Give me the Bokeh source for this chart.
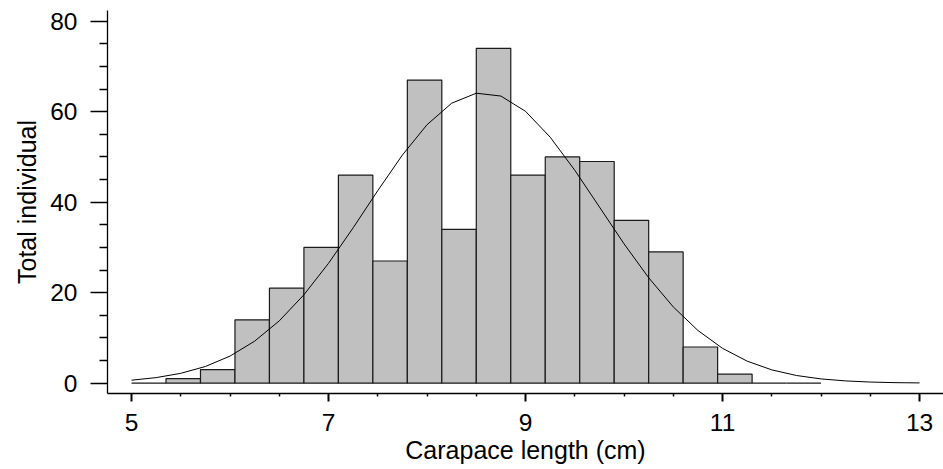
from bokeh.plotting import figure
from bokeh.models import Range1d, FixedTicker, ColumnDataSource
from bokeh.embed import file_html
from bokeh.resources import INLINE

# Histogram bins (carapace length, cm) and counts
bin_left = [5.0, 5.35, 5.7, 6.05, 6.4, 6.75, 7.1, 7.45, 7.8, 8.15,
            8.5, 8.85, 9.2, 9.55, 9.9, 10.25, 10.6, 10.95, 11.3, 11.65]
bin_right = [5.35, 5.7, 6.05, 6.4, 6.75, 7.1, 7.45, 7.8, 8.15, 8.5,
             8.85, 9.2, 9.55, 9.9, 10.25, 10.6, 10.95, 11.3, 11.65, 12.0]
counts = [0, 1, 3, 14, 21, 30, 46, 27, 67, 34,
          74, 46, 50, 49, 36, 29, 8, 2, 0, 0]

# Fitted normal curve
curve_x = [5.0, 5.25, 5.5, 5.75, 6.0, 6.25, 6.5, 6.75, 7.0, 7.25, 7.5,
           7.75, 8.0, 8.25, 8.5, 8.75, 9.0, 9.25, 9.5, 9.75, 10.0,
           10.25, 10.5, 10.75, 11.0, 11.25, 11.5, 11.75, 12.0, 12.25,
           12.5, 12.75, 13.0]
curve_y = [0.66, 1.23, 2.18, 3.69, 5.99, 9.29, 13.78, 19.54, 26.5, 34.34,
           42.56, 50.43, 57.13, 61.88, 64.09, 63.46, 60.08, 54.38, 47.06,
           38.94, 30.8, 23.3, 16.85, 11.65, 7.7, 4.87, 2.94, 1.7, 0.94,
           0.5, 0.25, 0.12, 0.06]

x_major = [5, 7, 9, 11, 13]
x_minor = [5.5, 6, 6.5, 7.5, 8, 8.5, 9.5, 10, 10.5, 11.5, 12, 12.5]
y_major = [0, 20, 40, 60, 80]
y_minor = [5, 10, 15, 25, 30, 35, 45, 50, 55, 65, 70, 75]

FONT = "Liberation Sans"

p = figure(width=943, height=469, output_backend="svg", toolbar_location=None,
           x_range=Range1d(4.756, 13.243), y_range=Range1d(-2.28, 82.37),
           min_border_left=107, min_border_right=0, min_border_top=10,
           min_border_bottom=76)
p.outline_line_color = None
p.background_fill_color = "white"
p.border_fill_color = "white"
p.xgrid.visible = False
p.ygrid.visible = False

src = ColumnDataSource(dict(left=bin_left, right=bin_right, top=counts,
                            bottom=[0] * len(counts)))
p.quad(left="left", right="right", top="top", bottom="bottom", source=src,
       fill_color="#c0c0c0", line_color="#1a1a1a", line_width=1.2)
p.line(curve_x, curve_y, line_color="black", line_width=1)

xa = p.xaxis[0]
xa.ticker = FixedTicker(ticks=x_major, minor_ticks=x_minor)
xa.axis_label = "Carapace length (cm)"
xa.major_tick_in = 0
xa.major_tick_out = 8
xa.minor_tick_in = 0
xa.minor_tick_out = 3
xa.major_tick_line_width = 2
xa.minor_tick_line_width = 1.5
xa.axis_line_width = 1.3
xa.major_label_standoff = 12
xa.axis_label_standoff = 2

ya = p.yaxis[0]
ya.ticker = FixedTicker(ticks=y_major, minor_ticks=y_minor)
ya.axis_label = "Total individual"
ya.major_tick_in = 0
ya.major_tick_out = 17
ya.minor_tick_in = 0
ya.minor_tick_out = 8
ya.major_tick_line_width = 1.3
ya.minor_tick_line_width = 1.3
ya.axis_line_width = 1.3
ya.major_label_standoff = 13
ya.axis_label_standoff = 6

for ax in (xa, ya):
    ax.axis_line_color = "black"
    ax.major_tick_line_color = "black"
    ax.minor_tick_line_color = "black"
    ax.major_label_text_font = FONT
    ax.major_label_text_font_size = "24.5px"
    ax.major_label_text_color = "black"
    ax.axis_label_text_font = FONT
    ax.axis_label_text_font_size = "25px"
    ax.axis_label_text_font_style = "normal"
    ax.axis_label_text_color = "black"

open("out.html", "w").write(file_html(p, INLINE))
